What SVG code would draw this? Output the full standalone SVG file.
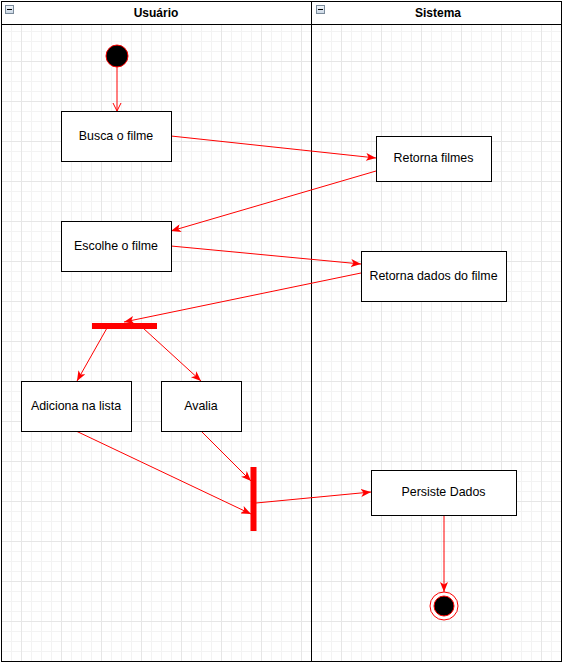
<svg xmlns="http://www.w3.org/2000/svg" width="563" height="663" viewBox="0 0 563 663">
<style>
.box{fill:#fff;stroke:#000;stroke-width:1}
.lbl{font-family:"Liberation Sans",Arial,sans-serif;font-size:12.4px;fill:#000;text-anchor:middle;dominant-baseline:central}
.hdr{font-family:"Liberation Sans",Arial,sans-serif;font-size:12px;font-weight:bold;fill:#000;text-anchor:middle;dominant-baseline:central}
.edge{fill:none;stroke:#ff0000;stroke-width:1}
.lane{fill:none;stroke:#000;stroke-width:1}
</style>
<defs>
<pattern id="minor" x="1" y="1" width="10" height="10" patternUnits="userSpaceOnUse">
<path d="M0.5 0V10M0 0.5H10" stroke="#f3f3f3" stroke-width="1" fill="none"/>
</pattern>
<pattern id="major" x="21" y="21" width="40" height="40" patternUnits="userSpaceOnUse">
<path d="M0.5 0V40M0 0.5H40" stroke="#e6e6e6" stroke-width="1" fill="none"/>
</pattern>
<marker id="arr" viewBox="0 0 10 8" refX="10" refY="4" markerWidth="10" markerHeight="8" markerUnits="userSpaceOnUse" orient="auto">
<path d="M0 0L10 4L0 8L2.5 4Z" fill="#ff0000"/>
</marker>
<marker id="open" viewBox="0 0 10 10" refX="9" refY="5" markerWidth="10" markerHeight="10" markerUnits="userSpaceOnUse" orient="auto">
<path d="M1 1L9 5L1 9" fill="none" stroke="#ff0000" stroke-width="1"/>
</marker>
<linearGradient id="icon" x1="0" y1="0" x2="0" y2="1">
<stop offset="0" stop-color="#f4f8fc"/>
<stop offset="1" stop-color="#c9d6e4"/>
</linearGradient>
</defs>
<rect x="0" y="0" width="563" height="663" fill="#fff"/>
<rect x="1" y="24" width="561" height="638" fill="url(#minor)"/>
<rect x="1" y="24" width="561" height="638" fill="url(#major)"/>

<g id="pool">
<rect x="1.5" y="1.5" width="560" height="660" class="lane"/>
<line x1="1.5" y1="24.5" x2="561.5" y2="24.5" class="lane"/>
<line x1="311.5" y1="1.5" x2="311.5" y2="661.5" class="lane"/>
</g>
<g id="lane-usuario">
<rect x="5.5" y="5.5" width="8" height="8" fill="url(#icon)" stroke="#7a8a9a" stroke-width="1"/>
<line x1="7" y1="9.5" x2="12" y2="9.5" stroke="#000" stroke-width="1"/>
<text x="156" y="13" class="hdr">Usuário</text>
</g>
<g id="lane-sistema">
<rect x="316.5" y="5.5" width="8" height="8" fill="url(#icon)" stroke="#7a8a9a" stroke-width="1"/>
<line x1="318" y1="9.5" x2="323" y2="9.5" stroke="#000" stroke-width="1"/>
<text x="438" y="13" class="hdr">Sistema</text>
</g>

<g id="connectors">
<path class="edge" d="M117 67V111" marker-end="url(#open)"/>
<path class="edge" d="M171 136L376 158" marker-end="url(#arr)"/>
<path class="edge" d="M376 171L171 231" marker-end="url(#arr)"/>
<path class="edge" d="M171 246L361 264" marker-end="url(#arr)"/>
<path class="edge" d="M361 273L124 322" marker-end="url(#arr)"/>
<path class="edge" d="M107 328L77 381" marker-end="url(#arr)"/>
<path class="edge" d="M143 328L201 381" marker-end="url(#arr)"/>
<path class="edge" d="M76 431L251 514" marker-end="url(#arr)"/>
<path class="edge" d="M201 431L251 481" marker-end="url(#arr)"/>
<path class="edge" d="M256 503L371 492" marker-end="url(#arr)"/>
<path class="edge" d="M444 515V592" marker-end="url(#arr)"/>
</g>

<g id="start">
<circle cx="117" cy="56" r="11" fill="#000" stroke="#ff0000" stroke-width="1"/>
</g>
<g id="busca">
<rect x="61.5" y="111.5" width="110" height="50" class="box"/>
<text x="116" y="135.5" class="lbl">Busca o filme</text>
</g>
<g id="retorna-filmes">
<rect x="376.5" y="136.5" width="115" height="45" class="box"/>
<text x="433.5" y="158" class="lbl">Retorna filmes</text>
</g>
<g id="escolhe">
<rect x="61.5" y="221.5" width="110" height="50" class="box"/>
<text x="116" y="245.5" class="lbl">Escolhe o filme</text>
</g>
<g id="retorna-dados">
<rect x="361.5" y="251.5" width="145" height="50" class="box"/>
<text x="433.5" y="275.5" class="lbl">Retorna dados do filme</text>
</g>
<g id="fork">
<rect x="92" y="323" width="65" height="6" fill="#ff0000"/>
</g>
<g id="adiciona">
<rect x="21.5" y="381.5" width="110" height="50" class="box"/>
<text x="76" y="405.5" class="lbl">Adiciona na lista</text>
</g>
<g id="avalia">
<rect x="161.5" y="381.5" width="80" height="50" class="box"/>
<text x="201" y="405.5" class="lbl">Avalia</text>
</g>
<g id="join">
<rect x="250.5" y="467" width="6" height="64" fill="#ff0000"/>
</g>
<g id="persiste">
<rect x="371.5" y="470.5" width="145" height="45" class="box"/>
<text x="443.5" y="492" class="lbl">Persiste Dados</text>
</g>
<g id="end">
<circle cx="444" cy="606" r="14" fill="#fff" stroke="#ff0000" stroke-width="1"/>
<circle cx="444" cy="606" r="10" fill="#000" stroke="#ff0000" stroke-width="1"/>
</g>
</svg>
